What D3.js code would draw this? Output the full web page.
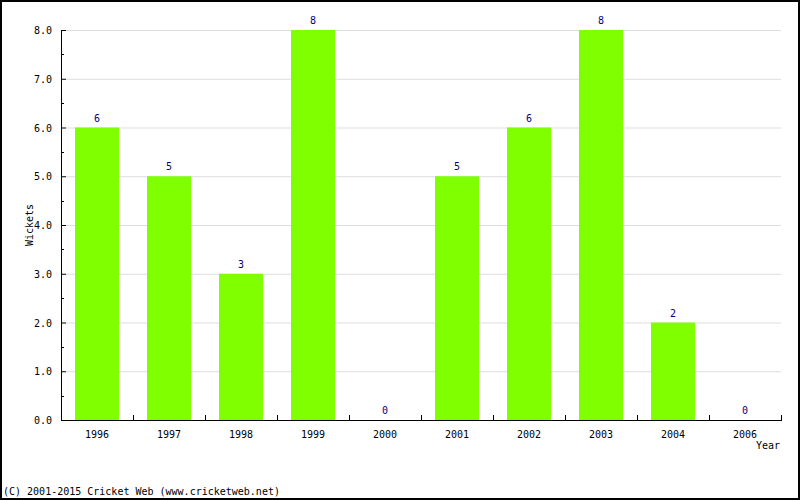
<!DOCTYPE html>
<html><head><meta charset="utf-8">
<script src="https://cdn.jsdelivr.net/npm/d3@7"></script>
<style>html,body{margin:0;padding:0;background:#fff;}svg{display:block;}</style>
</head><body>
<svg id="chart" width="800" height="500"></svg>
<script>
const years = ["1996","1997","1998","1999","2000","2001","2002","2003","2004","2006"];
const wickets = [6,5,3,8,0,5,6,8,2,0];
const yTicks = [0,1,2,3,4,5,6,7,8];
const yMinor = [0.5,1.5,2.5,3.5,4.5,5.5,6.5,7.5];

const W = 800, H = 500;
const m = {left:61, right:19, top:30, bottom:80};
const svg = d3.select("#chart");
const font = "'DejaVu Sans Mono', monospace";

svg.append("rect").attr("x",1).attr("y",1).attr("width",W-2).attr("height",H-2)
  .attr("fill","#fff").attr("stroke","#000").attr("stroke-width",2);

const x = d3.scaleBand().domain(years).range([m.left, W-m.right]).paddingInner(0.3889).paddingOuter(0.1944);
const y = d3.scaleLinear().domain([0,8]).range([H-m.bottom, m.top]);

// grid
svg.append("g").selectAll("line").data(yTicks.filter(d=>d>0)).join("line")
  .attr("x1",m.left+5).attr("x2",W-m.right).attr("y1",d=>y(d)+0.5).attr("y2",d=>y(d)+0.5)
  .attr("stroke","#dddddd").attr("stroke-width",1);

// bars
svg.append("g").selectAll("rect").data(years).join("rect")
  .attr("x",(d)=>x(d)).attr("width",x.bandwidth())
  .attr("y",(d,i)=>y(wickets[i])).attr("height",(d,i)=>y(0)-y(wickets[i]))
  .attr("fill","#7fff00");

// value labels
svg.append("g").selectAll("text").data(years).join("text")
  .attr("x",d=>x(d)+x.bandwidth()/2).attr("y",(d,i)=>y(wickets[i])-6)
  .attr("text-anchor","middle").attr("font-family",font).attr("font-size",10)
  .attr("fill","#000080").text((d,i)=>wickets[i]);

// y axis
const ya = svg.append("g");
ya.append("line").attr("x1",m.left+0.5).attr("x2",m.left+0.5).attr("y1",y(8)).attr("y2",y(0)+1)
  .attr("stroke","#000");
ya.selectAll("line.maj").data(yTicks).join("line").attr("class","maj")
  .attr("x1",m.left).attr("x2",m.left+5).attr("y1",d=>y(d)+0.5).attr("y2",d=>y(d)+0.5).attr("stroke","#000");
ya.selectAll("line.min").data(yMinor).join("line").attr("class","min")
  .attr("x1",m.left).attr("x2",m.left+3).attr("y1",d=>Math.round(y(d))+0.5).attr("y2",d=>Math.round(y(d))+0.5).attr("stroke","#000");
ya.selectAll("text").data(yTicks).join("text")
  .attr("x",52).attr("y",d=>y(d)+4).attr("text-anchor","end")
  .attr("font-family",font).attr("font-size",10).attr("fill","#000").text(d=>d.toFixed(1));

// x axis
const xa = svg.append("g");
xa.append("line").attr("x1",m.left).attr("x2",W-m.right+1).attr("y1",y(0)+0.5).attr("y2",y(0)+0.5).attr("stroke","#000");
const step = x.step();
xa.selectAll("line.t").data(years).join("line").attr("class","t")
  .attr("x1",d=>Math.round(x(d)+x.bandwidth()/2+step/2)+0.5).attr("x2",d=>Math.round(x(d)+x.bandwidth()/2+step/2)+0.5)
  .attr("y1",y(0)-5).attr("y2",y(0)).attr("stroke","#000");
xa.selectAll("text").data(years).join("text")
  .attr("x",d=>x(d)+x.bandwidth()/2).attr("y",y(0)+18).attr("text-anchor","middle")
  .attr("font-family",font).attr("font-size",10).attr("fill","#000").text(d=>d);

// axis titles
svg.append("text").attr("x",W-m.right-1).attr("y",449).attr("text-anchor","end")
  .attr("font-family",font).attr("font-size",10).text("Year");
svg.append("text").attr("transform",`translate(33,${(y(0)+y(8))/2}) rotate(-90)`).attr("text-anchor","middle")
  .attr("font-family",font).attr("font-size",10).text("Wickets");

svg.append("text").attr("x",3).attr("y",495).attr("font-family",font).attr("font-size",10)
  .text("(C) 2001-2015 Cricket Web (www.cricketweb.net)");
</script>
</body></html>
